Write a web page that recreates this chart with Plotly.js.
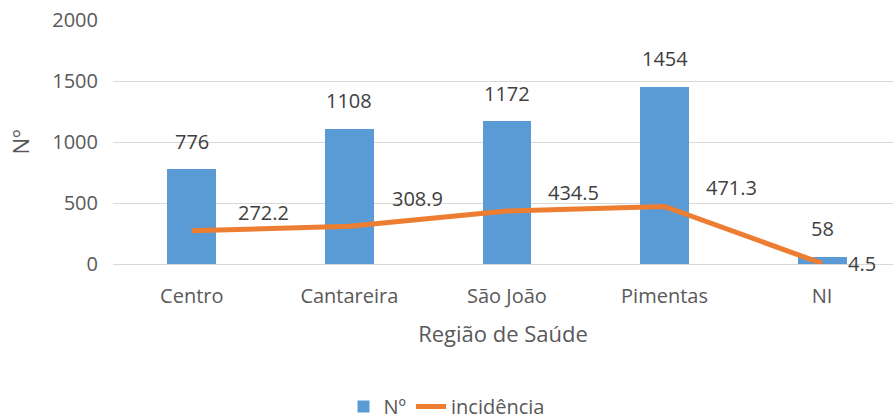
<!DOCTYPE html>
<html>
<head>
<meta charset="utf-8">
<script src="https://cdn.plot.ly/plotly-3.0.1.min.js"></script>
<style>html,body{margin:0;padding:0;background:#fff;}#chart{width:893px;height:419px;}</style>
</head>
<body>
<div id="chart"></div>
<script>
const categories = ["Centro", "Cantareira", "São João", "Pimentas", "NI"];
const counts = [776, 1108, 1172, 1454, 58];
const incidence = [272.2, 308.9, 434.5, 471.3, 4.5];
const yTicks = [0, 500, 1000, 1500, 2000];

const lineLabelShift = [[72, 18], [68, 28], [67, 18], [67, 19], [40, 0]];

const font = "Open Sans, Noto Sans, sans-serif";
const grey = "#595959";

const traces = [
  {type: "bar", name: "Nº", x: categories, y: counts, width: 0.31,
   marker: {color: "#5B9BD5"}, hoverinfo: "skip"},
  {type: "scatter", mode: "lines", name: "incidência", x: categories, y: incidence,
   line: {color: "#ED7D31", width: 5}, hoverinfo: "skip"}
];

const annotations = [];
categories.forEach((c, i) => {
  annotations.push({x: c, y: counts[i], text: String(counts[i]), showarrow: false,
    yanchor: "middle", yshift: 28, font: {family: font, size: 20, color: "#404040"}});
  annotations.push({x: c, y: incidence[i], text: incidence[i].toFixed(1), showarrow: false,
    yanchor: "middle", xshift: lineLabelShift[i][0], yshift: lineLabelShift[i][1],
    font: {family: font, size: 20, color: "#404040"}});
});

const layout = {
  width: 893, height: 419,
  margin: {l: 113, r: 0, t: 20, b: 155, autoexpand: false},
  paper_bgcolor: "#fff", plot_bgcolor: "#fff",
  showlegend: true,
  legend: {orientation: "h", x: 0.5, xanchor: "center", xref: "container",
    yref: "container", y: 0.03, yanchor: "middle",
    font: {family: font, size: 20, color: grey}, traceorder: "normal"},
  xaxis: {type: "category", range: [-0.5, 4.45], showgrid: false, zeroline: false, showline: false,
    ticks: "", ticklabelstandoff: 18, tickfont: {family: font, size: 20, color: grey},
    title: {text: "Região de Saúde", font: {family: font, size: 22, color: grey}, standoff: 18}},
  yaxis: {range: [0, 2000], tickvals: yTicks, ticktext: yTicks.map(String),
    showgrid: true, gridcolor: "#D9D9D9", gridwidth: 1, zeroline: true, zerolinecolor: "#D9D9D9",
    showline: false, ticks: "", ticklabelstandoff: 14,
    tickfont: {family: font, size: 20, color: grey},
    title: {text: "Nº", font: {family: font, size: 22, color: grey}, standoff: 16}},
  annotations: annotations,
  bargap: 0
};

Plotly.newPlot("chart", traces, layout, {staticPlot: true, displayModeBar: false});
</script>
</body>
</html>
